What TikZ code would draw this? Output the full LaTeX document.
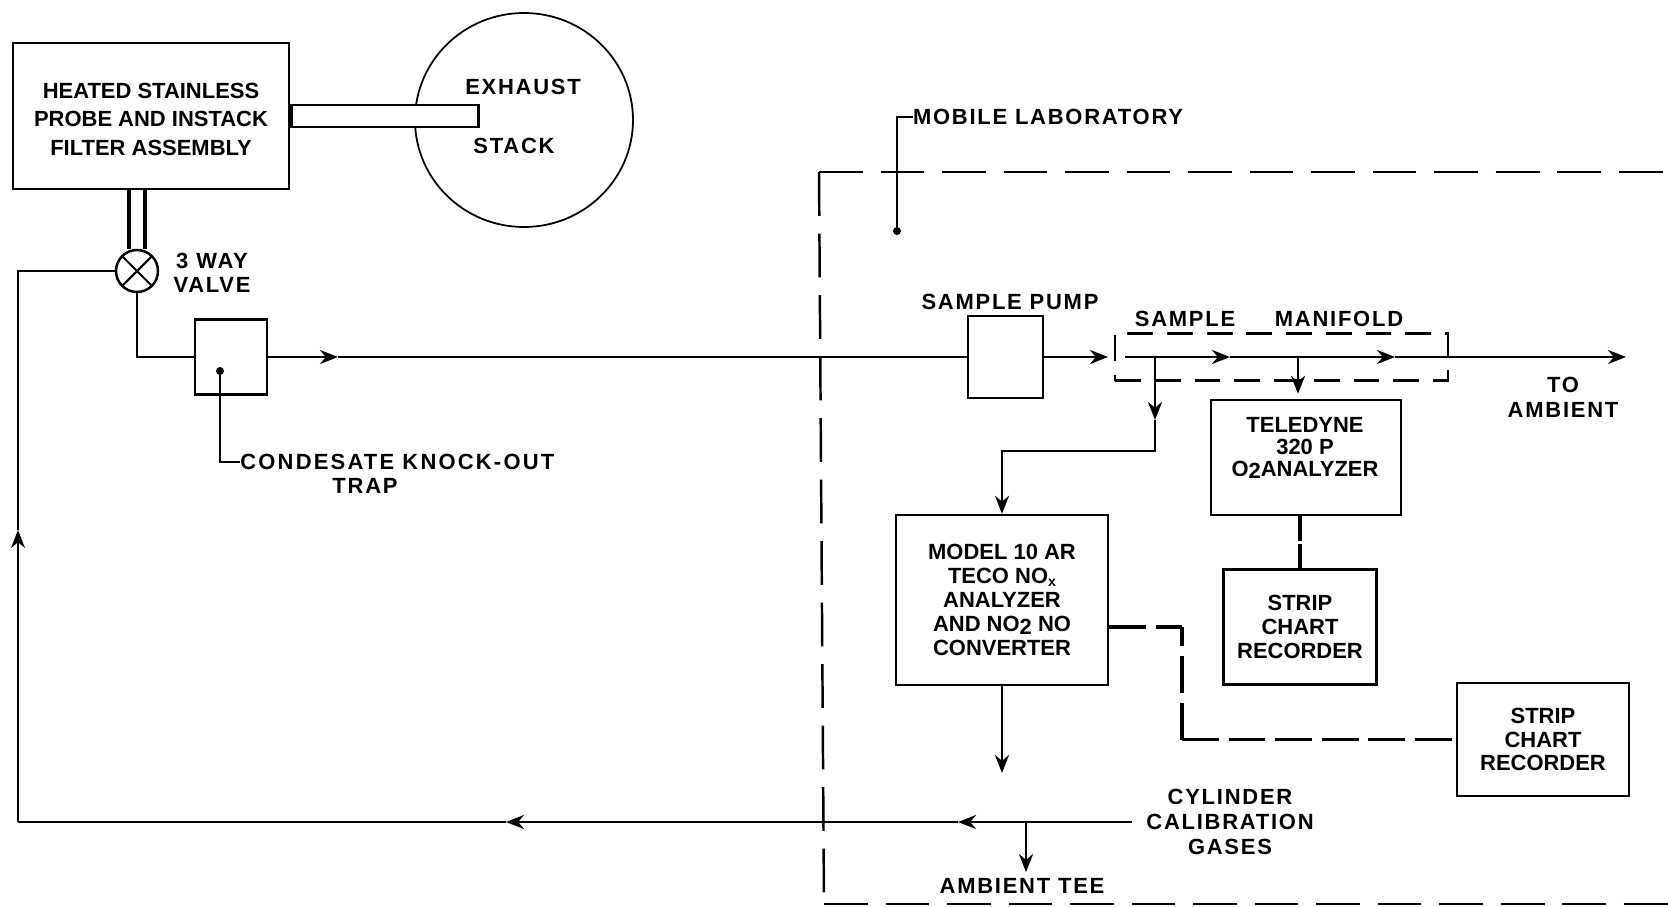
\documentclass[tikz,border=0pt]{standalone}
\usepackage{fontspec}
\setmainfont{Liberation Sans}
\newfontfamily\widefont[LetterSpace=8]{Liberation Sans}
\newfontfamily\widerfont[LetterSpace=10]{Liberation Sans}
\usepackage{tikz}
\usetikzlibrary{shapes.geometric, arrows.meta, positioning, calc}
\newcommand{\lowtwo}{\raisebox{-.25ex}{2}}

\begin{document}
\begin{tikzpicture}[
    unit/.style={rectangle, draw, line width=1.4pt, align=center, inner sep=0pt, font=\fontsize{12.5}{13.6}\selectfont\bfseries},
    lbl/.style={inner sep=0pt, align=center, font=\fontsize{12.5}{13.6}\selectfont\bfseries},
    widelbl/.style={inner sep=0pt, align=center, font=\fontsize{12.5}{14}\widefont\bfseries},
    flow/.style={>={Stealth[length=.36cm, width=.28cm]}, line width=1.6pt},
    wire/.style={line width=1.8pt},
    leader/.style={line width=1pt},
    dotmark/.style={circle, fill, inner sep=0pt, minimum size=.16cm},
    longdash/.style={line width=1.4pt, dash pattern=on 25pt off 10pt},
    recdash/.style={line width=1.8pt, dash pattern=on 21pt off 5.5pt},
    shortdash/.style={line width=1.2pt, dash pattern=on 14.7pt off 7.9pt}
]
\useasboundingbox (0,0) rectangle (33.36,-18.12);

% outside the laboratory
\node[ellipse, draw, line width=1pt, minimum width=4.36cm, minimum height=4.28cm, inner sep=0pt] (stack) at (10.48,-2.4) {};
\node[unit, minimum width=5.52cm, minimum height=2.92cm, font=\fontsize{12.5}{16.4}\selectfont\bfseries] (heated) at (3.02,-2.32) {\rule{0pt}{12.5pt}HEATED STAINLESS\\PROBE AND INSTACK\\FILTER ASSEMBLY};
\node[unit, fill=white, minimum width=3.74cm, minimum height=.44cm, right=0cm of heated] (tube) {};
\node[widelbl] (exhaust) at (10.46,-1.74) {EXHAUST};
\node[widelbl] (stacklabel) at (10.28,-2.92) {STACK};

\node[circle, draw, line width=1.4pt, minimum size=.84cm, inner sep=0pt,
    path picture={\draw[line width=1.2pt] (path picture bounding box.north west) -- (path picture bounding box.south east)
        (path picture bounding box.north east) -- (path picture bounding box.south west);}] (valve) at (2.74,-5.42) {};
\node[widelbl, font=\fontsize{12.5}{13.4}\widefont\bfseries] (valvelabel) at (4.24,-5.46) {3 WAY\\VALVE};
\node[unit, line width=1.2pt, minimum width=1.44cm, minimum height=1.5cm] (trap) at (4.62,-7.14) {};
\node[dotmark] (trapdot) at (4.4,-7.42) {};
\node[widelbl, font=\fontsize{12.5}{14}\widerfont\bfseries, anchor=west] (knockout) at (4.8,-9.24) {CONDESATE KNOCK-OUT};
\node[widelbl] (traplabel) at (7.3,-9.72) {TRAP};

% laboratory
\node[widelbl] (moblab) at (20.96,-2.34) {MOBILE LABORATORY};
\node[dotmark] (labdot) at (17.94,-4.62) {};
\coordinate (labtop) at (33.36,-3.44);
\coordinate (labtl) at (16.38,-3.44);
\coordinate (labbl) at (16.48,-18.08);
\coordinate (labbottom) at (33.36,-18.08);

\node[unit, line width=1.2pt, minimum width=1.5cm, minimum height=1.64cm, right=13.98cm of trap] (pump) {};
\node[widelbl] (pumplabel) at (20.2,-6.04) {SAMPLE PUMP};
\node[shortdash, draw, minimum width=6.66cm, minimum height=.94cm, inner sep=0pt, right=1.4cm of pump] (manifold) {};
\node[widelbl] (samplelabel) at (23.7,-6.38) {SAMPLE};
\node[widelbl] (manifoldlabel) at (26.78,-6.38) {MANIFOLD};
\node[widelbl, font=\fontsize{12.5}{14.4}\widefont\bfseries] (toambient) at (31.26,-7.94) {TO\\AMBIENT};

\node[unit, minimum width=3.8cm, minimum height=2.3cm] (teledyne) at (26.12,-9.15) {};
\node[lbl, font=\fontsize{12.5}{12.5}\selectfont\bfseries] (teledynetext) at (26.1,-8.96) {TELEDYNE\\320 P\\O\lowtwo ANALYZER};
\node[unit, minimum width=3.06cm, minimum height=2.3cm, below=1.04cm of teledyne, xshift=-.12cm] (stripone) {STRIP\\CHART\\RECORDER};
\node[unit, minimum width=4.24cm, minimum height=3.4cm] (model) at (20.04,-12) {MODEL 10 AR\\TECO NO\raisebox{-.25ex}{\footnotesize x}\\ANALYZER\\AND NO\lowtwo\ NO\\CONVERTER};
\node[unit, minimum width=3.44cm, minimum height=2.26cm] (striptwo) at (30.86,-14.79) {STRIP\\CHART\\RECORDER};
\node[widelbl] (cylinder) at (24.6,-16.44) {CYLINDER\\CALIBRATION\\GASES};
\node[widelbl] (ambtee) at (20.44,-17.72) {AMBIENT TEE};

% coordinates on the lines
\coordinate (trapmark) at (6.76,-7.14);
\coordinate (mfin) at (22.16,-7.14);
\coordinate (mfstart) at (22.5,-7.14);
\coordinate (mfone) at (24.6,-7.14);
\coordinate (mftwo) at (27.9,-7.14);
\coordinate (mfend) at (32.52,-7.14);
\coordinate (branch) at (23.1,-7.14);
\coordinate (branchmid) at (23.1,-8.4);
\coordinate (branchbend) at (23.1,-9.02);
\coordinate (otap) at (25.96,-7.14);
\coordinate (modelout) at (20.04,-15.46);
\coordinate (recbend) at (23.64,-12.54);
\coordinate (retone) at (19.16,-16.44);
\coordinate (rettwo) at (10.12,-16.44);
\coordinate (retcorner) at (.36,-16.44);
\coordinate (retup) at (.36,-10.6);
\coordinate (teejoin) at (20.52,-16.44);

% laboratory outline
\draw[longdash] (labtl) -- (labtop);
\draw[longdash] (labtl) -- (labbl);
\draw[longdash] (labbl) -- (labbottom);

% probe to valve
\draw[wire] ([xshift=-.16cm]valve.north) -- ([xshift=-.16cm]valve.north |- heated.south);
\draw[wire] ([xshift=.16cm]valve.north) -- ([xshift=.16cm]valve.north |- heated.south);

% sample line
\draw[flow] (valve.south) |- (trap.west);
\draw[flow, ->] (trap.east) -- (trapmark);
\draw[flow] (trapmark) -- (pump.west);
\draw[flow, ->] (pump.east) -- (mfin);
\draw[flow, ->] (mfstart) -- (mfone);
\draw[flow, ->] (mfone) -- (mftwo);
\draw[flow, ->] (mftwo) -- (mfend);
\draw[flow, ->] (branch) -- (branchmid);
\draw[flow, ->] (branchmid) -- (branchbend) -| (model.north);
\draw[flow, ->, shorten >=.1cm] (otap) -- (otap |- teledyne.north);
\draw[flow, ->] (model.south) -- (modelout);

% recorders
\draw[wire, dash pattern=on 14pt off 2pt] (stripone.north |- teledyne.south) -- (stripone.north);
\draw[recdash] ([yshift=-.54cm]model.east) -- (recbend);
\draw[recdash] (recbend |- striptwo.west) -- (recbend);
\draw[recdash] (recbend |- striptwo.west) -- (striptwo.west);

% return line
\draw[flow, ->] ([xshift=-.28cm]cylinder.west) -- (retone);
\draw[flow, ->] (retone) -- (rettwo);
\draw[flow, ->] (retcorner) -- (retup);
\draw[flow] (rettwo) -- (retcorner);
\draw[flow] (retup) |- (valve.west);
\draw[flow, ->, shorten >=.12cm] (teejoin) -- (teejoin |- ambtee.north);

% leaders
\draw[leader] (labdot) |- (moblab.west);
\draw[leader] (trapdot) |- (knockout.west);

\end{tikzpicture}
\end{document}
